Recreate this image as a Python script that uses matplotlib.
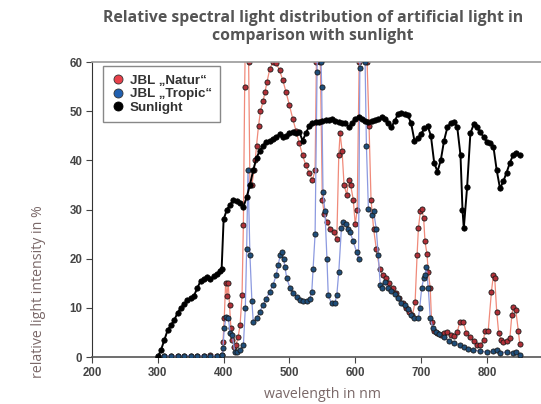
import matplotlib
matplotlib.use("Agg")
import matplotlib.pyplot as plt
from matplotlib.lines import Line2D

# ---------------- data ----------------
sun_nm = [300, 305, 310, 315, 320, 325, 330, 335, 340, 345, 350, 355, 360, 365, 370, 375, 380,
          385, 390, 395, 397, 400, 405, 410, 415, 420, 425, 430, 435, 440, 445, 450, 455, 460,
          465, 470, 475, 480, 485, 490, 495, 500, 505, 510, 515, 520, 525, 530, 535, 540, 545,
          550, 555, 560, 565, 570, 575, 580, 585, 590, 595, 600, 605, 610, 615, 620, 625, 630,
          635, 640, 645, 650, 655, 660, 665, 670, 675, 680, 685, 690, 695, 700, 705, 710, 715,
          720, 725, 730, 735, 740, 745, 750, 755, 760, 763, 765, 770, 775, 780, 785, 790, 795,
          800, 805, 810, 815, 820, 825, 830, 835, 840, 845, 850]
sun_val = [0.0, 1.5, 3.5, 5.5, 6.5, 7.5, 9.0, 10.0, 10.8, 11.5, 12.0, 12.5, 14.0, 15.5, 15.8,
           16.3, 15.8, 16.5, 16.8, 17.5, 18.0, 28.0, 30.0, 31.0, 32.0, 31.8, 31.3, 30.5, 32.5,
           35.0, 38.0, 40.5, 42.0, 43.0, 43.8, 44.0, 44.3, 44.8, 45.3, 44.8, 45.0, 45.5, 45.8,
           45.5, 45.8, 44.0, 45.5, 47.0, 47.5, 47.8, 47.8, 48.0, 48.3, 48.2, 48.5, 48.0, 47.8,
           47.5, 47.5, 46.8, 47.5, 48.5, 48.9, 48.5, 48.0, 47.8, 48.0, 48.2, 48.4, 48.8, 48.5,
           47.5, 46.8, 48.0, 49.4, 49.6, 49.5, 49.2, 47.5, 44.0, 44.5, 45.3, 46.5, 47.0, 45.0,
           39.5, 37.7, 40.0, 44.0, 46.7, 47.6, 47.8, 46.8, 41.0, 30.0, 26.2, 34.5, 45.5, 47.3,
           46.8, 45.7, 44.8, 43.8, 43.6, 42.8, 38.0, 34.3, 35.7, 37.5, 39.5, 41.1, 41.4, 41.1]

natur_nm = [300, 310, 320, 330, 340, 350, 360, 370, 380, 390, 398, 399, 401, 403, 405, 407, 409,
            411, 413, 416, 419, 422, 425, 428, 430, 432, 434, 436, 438, 440, 443, 446, 448, 450,
            453, 456, 460, 463, 466, 470, 475, 480, 485, 490, 495, 500, 505, 510, 515, 520, 525,
            530, 535, 539, 541, 544, 547, 550, 553, 557, 562, 567, 572, 575, 577, 580, 583, 587,
            590, 593, 597, 600, 603, 606, 609, 612, 615, 618, 621, 624, 628, 632, 637, 642, 647,
            652, 657, 662, 667, 672, 677, 682, 687, 691, 694, 696, 699, 701, 704, 706, 709, 711,
            714, 716, 719, 724, 730, 735, 740, 745, 750, 755, 759, 764, 769, 774, 780, 785, 790,
            795, 797, 802, 807, 810, 812, 815, 818, 822, 825, 830, 835, 838, 840, 844, 848, 850]
natur_val = [0.2, 0.3, 0.2, 0.3, 0.3, 0.2, 0.3, 0.3, 0.4, 0.3, 0.5, 3.0, 8.0, 15.0, 12.5, 15.0,
             10.5, 6.0, 3.5, 2.0, 2.5, 4.0, 6.5, 12.6, 26.8, 55.0, 75.0, 80.0, 60.0, 35.0, 35.0,
             38.0, 40.0, 43.0, 47.0, 50.0, 52.0, 54.0, 56.0, 58.5, 60.0, 59.8, 58.3, 56.3, 53.8,
             51.2, 48.5, 46.0, 43.5, 41.0, 39.0, 37.5, 36.0, 38.0, 60.0, 80.0, 60.0, 32.0, 29.0,
             27.5, 26.0, 25.4, 24.0, 41.0, 45.5, 42.0, 35.0, 33.0, 36.0, 35.0, 32.0, 27.0, 30.0,
             60.0, 80.0, 90.0, 75.0, 60.0, 47.0, 32.0, 26.0, 22.0, 18.0, 16.7, 16.0, 15.0, 14.0,
             13.0, 12.0, 11.0, 10.0, 9.2, 8.5, 11.2, 20.7, 26.2, 29.6, 30.2, 28.2, 23.5, 21.0,
             17.3, 14.0, 7.2, 5.2, 4.9, 4.5, 4.8, 5.0, 4.5, 4.2, 5.0, 7.2, 7.2, 4.9, 4.0, 3.2,
             2.5, 2.4, 3.5, 5.2, 5.2, 13.3, 16.7, 16.0, 9.2, 4.9, 3.5, 3.0, 3.2, 3.9, 8.5, 10.2,
             9.5, 5.2, 2.7]

tropic_nm = [300, 310, 320, 330, 340, 350, 360, 370, 380, 390, 398, 399, 401, 404, 407, 410, 413,
             417, 421, 425, 430, 433, 435, 437, 440, 443, 445, 450, 455, 460, 465, 470, 475, 480,
             483, 486, 488, 491, 493, 496, 501, 506, 511, 516, 521, 526, 531, 534, 536, 539, 542,
             545, 548, 549, 551, 554, 557, 559, 564, 569, 572, 575, 579, 582, 586, 589, 592, 597,
             602, 605, 607, 610, 613, 615, 617, 620, 625, 628, 632, 635, 638, 640, 645, 650, 655,
             660, 665, 670, 675, 680, 685, 690, 696, 698, 701, 704, 706, 708, 711, 714, 718, 723,
             728, 735, 743, 750, 759, 765, 772, 779, 790, 800, 810, 815, 820, 830, 840, 845, 850]
tropic_val = [0.2, 0.2, 0.3, 0.2, 0.3, 0.3, 0.2, 0.3, 0.3, 0.3, 0.5, 1.8, 6.0, 8.2, 8.0, 4.9,
              4.5, 1.0, 1.0, 1.4, 2.4, 10.0, 22.0, 38.0, 20.7, 11.3, 7.2, 7.9, 9.2, 10.6, 11.9,
              13.3, 14.6, 16.7, 18.8, 20.7, 21.4, 20.0, 18.4, 16.0, 14.0, 13.0, 12.3, 11.6, 11.3,
              11.3, 11.9, 13.3, 18.0, 25.0, 58.0, 85.0, 60.0, 55.0, 33.6, 29.6, 20.0, 12.6, 10.9,
              11.0, 12.6, 17.3, 26.2, 27.5, 27.0, 26.0, 25.5, 23.5, 21.4, 20.0, 58.7, 90.0, 80.0,
              60.0, 43.0, 30.2, 28.9, 29.6, 26.0, 20.7, 14.6, 14.0, 15.3, 14.0, 13.5, 12.8, 12.0,
              11.0, 10.5, 9.8, 8.5, 7.9, 7.9, 10.0, 14.0, 16.0, 16.7, 18.4, 14.0, 8.0, 5.8, 5.0,
              4.6, 4.0, 3.3, 2.9, 2.4, 2.0, 1.7, 1.4, 1.2, 1.0, 1.2, 1.5, 0.9, 1.0, 0.8, 1.0, 0.4]

series_labels = ["JBL \u201eNatur\u201c", "JBL \u201eTropic\u201c", "Sunlight"]
x_ticks = [200, 300, 400, 500, 600, 700, 800, 900]
y_ticks = [0, 10, 20, 30, 40, 50, 60]
title = "Relative spectral light distribution of artificial light in\ncomparison with sunlight"

# ---------------- figure ----------------
plt.rcParams['font.family'] = ['Open Sans', 'DejaVu Sans']
fig = plt.figure(figsize=(5.41, 4.04), dpi=100)
ax = fig.add_axes([0.1701, 0.1163, 0.8514, 0.7302])

edge = '#1a1a1a'
ax.plot(natur_nm, natur_val, color='#f08a7a', lw=0.9, zorder=2,
        marker='o', ms=3.7, mfc='#b03038', mec=edge, mew=0.6)
ax.plot(tropic_nm, tropic_val, color='#8c9ae0', lw=0.9, zorder=3,
        marker='o', ms=3.7, mfc='#1f4e7a', mec=edge, mew=0.6)
ax.plot(sun_nm, sun_val, color='black', lw=1.4, zorder=4,
        marker='o', ms=3.9, mfc='black', mec='black', mew=0.5)

ax.set_xlim(200, 900)
ax.set_ylim(0, 60)
ax.set_xticks(x_ticks)
ax.set_yticks(y_ticks)
ax.tick_params(axis='both', direction='out', length=4, width=0.8, color='#444444',
               labelsize=8.3, labelcolor='#444444', pad=3)
for lab in ax.get_xticklabels() + ax.get_yticklabels():
    lab.set_fontfamily(['Liberation Sans', 'DejaVu Sans'])
    lab.set_fontweight('bold')

ax.spines['left'].set_color('#333333')
ax.spines['bottom'].set_color('#555555')
ax.spines['top'].set_color('#999999')
ax.spines['right'].set_color('#999999')
ax.spines['top'].set_linewidth(1.2)
ax.spines['bottom'].set_linewidth(1.2)

ax.set_xlabel("wavelength in nm", fontsize=10.2, color='#7a6868')
ax.xaxis.set_label_coords(0.50, -0.10)
ax.set_ylabel("relative light intensity in %", fontsize=10.2, color='#7a6868')
ax.yaxis.set_label_coords(-0.10, 0.22)

fig.text(0.578, 0.975, title, ha='center', va='top', fontsize=11.3, fontweight='bold',
         color='#555555', linespacing=1.15)

handles = [
    Line2D([], [], ls='none', marker='o', ms=6.5, mfc='#e8404a', mec='#333333', mew=0.6),
    Line2D([], [], ls='none', marker='o', ms=6.5, mfc='#2060b0', mec='#333333', mew=0.6),
    Line2D([], [], ls='none', marker='o', ms=6.5, mfc='black', mec='black', mew=0.6),
]
leg = ax.legend(handles, series_labels, loc='upper left', bbox_to_anchor=(0.024, 0.985),
                prop={'family': ['Liberation Sans', 'DejaVu Sans'], 'weight': 'bold', 'size': 9.6},
                labelcolor='#333333', fancybox=False,
                edgecolor='#888888', framealpha=1, handletextpad=0.4, borderpad=0.6,
                labelspacing=0.1, handlelength=1.0, borderaxespad=0)
leg.get_frame().set_linewidth(1.0)

fig.savefig("out.png", dpi=100)
